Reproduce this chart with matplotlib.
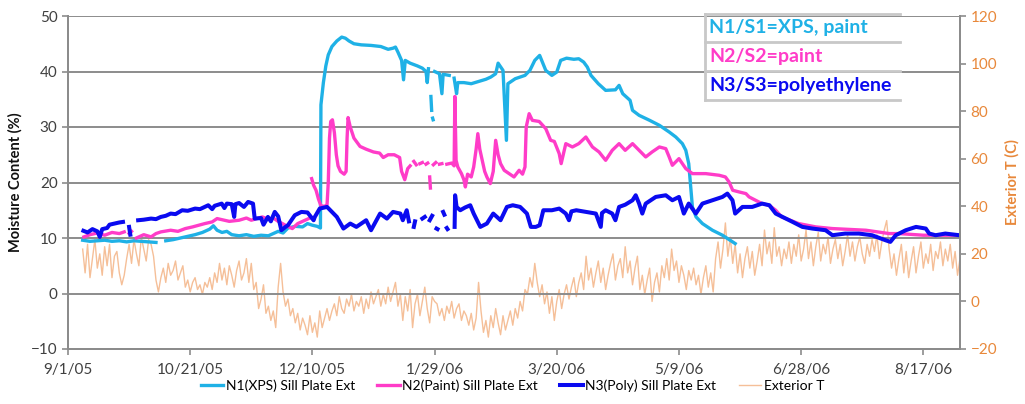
import numpy as np
import matplotlib
matplotlib.use("Agg")
import matplotlib.pyplot as plt
from matplotlib.lines import Line2D

nan = np.nan

# x is days after 9/1/05
tick_days = [0, 50, 100, 150, 200, 250, 300, 350]
tick_labels = ["9/1/05", "10/21/05", "12/10/05", "1/29/06", "3/20/06", "5/9/06", "6/28/06", "8/17/06"]

# N1 (XPS) sill plate ext, moisture content %
n1_days = [6, 9, 12, 15, 18, 21, 24, 27, 30, 33, 36, 37, 40, 43, 46, 49, 52, 55, 58, 59.5, 61, 63, 65, 67,
           70, 73, 76, 79, 82, 84, 86, 88, 90, 93, 96, 98, 100, 102, 103.3, 103.5, 104, 104.5, 105.5, 106.5,
           108, 110, 112, 113.5, 115, 117, 120, 124, 128, 131, 133, 134, 135, 136.5, 137.3, 138, 140, 143,
           145, 146.5, 147, 147.5, 148, 148.5, 148.8, 149, 149.2, 149.4, 149.6, 150, 152, 153, 153.5, 156,
           157, 158, 159, 159.5, 162, 165, 168, 171, 173, 175, 176, 178, 179.4, 180, 183, 187, 189, 191,
           193, 195.5, 198, 200, 201.6, 204, 207, 209, 211, 212.5, 214, 217, 220, 224, 225.5, 227, 230,
           231, 233.7, 238, 242, 246, 248.7, 251.4, 252.8, 254, 254.8, 255.5, 257, 259.6, 263.7, 267.8, 273]
n1_mc = [9.6, 9.4, 9.5, 9.6, 9.4, 9.5, 9.3, 9.5, 9.4, 9.3, 9.2, nan, 9.5, 9.7, 10.0, 10.3, 10.6, 11.0, 11.6,
         12.2, 11.4, 11.0, 11.2, 10.6, 10.4, 10.6, 10.3, 10.5, 10.4, 10.8, 11.2, 10.9, 11.8, 12.1, 12.0, 12.6,
         12.3, 12.1, 11.8, 34.0, 36.0, 38.0, 41.0, 43.0, 44.5, 45.5, 46.2, 46.0, 45.5, 45.0, 44.8, 44.7, 44.5,
         44.0, 44.2, 44.4, 43.5, 42.0, 38.5, 42.0, 41.5, 41.0, 40.6, 40.0, 38.0, 40.5, nan, 35.5, 33.0, nan,
         31.6, 31.3, nan, 40.0, 39.6, 36.0, 39.5, 39.3, nan, 38.8, 36.0, 38.0, 38.0, 37.8, 38.2, 38.6, 39.0,
         39.6, 41.5, 40.2, 27.6, 37.8, 38.7, 39.3, 40.2, 42.0, 42.9, 40.2, 39.3, 39.9, 42.0, 42.4, 42.2, 42.3,
         41.7, 40.8, 39.3, 37.8, 36.6, 36.7, 37.5, 36.0, 34.8, 33.0, 32.1, 31.2, 30.3, 29.1, 28.2, 27.0, 25.8,
         23.4, 19.2, 15.6, 13.8, 12.6, 11.4, 10.5, 9.0]

# N2 (Paint) sill plate ext
n2_days = [6.5, 9, 12, 15, 18, 21, 23, 23.5, 25, 26, 26.5, 28, 31, 34, 36, 38, 42, 45, 48, 51, 53.5, 56, 59,
           61, 63, 66, 70, 73, 75, 79.5, 82, 84, 86, 89, 91.8, 94, 97, 99, 99.4, 99.7, 100.5, 101.5, 102.5,
           103.5, 105, 106, 106.5, 107, 107.5, 108.2, 109, 109.8, 110.5, 111.5, 113, 113.8, 114.2, 114.6,
           115.5, 117, 119.5, 122, 125, 127.5, 129, 131, 133.5, 135.7, 136.5, 137.8, 139, 140, 140.5, 141.5,
           142.5, 143, 144, 145, 145.5, 146.5, 147.2, 147.5, 148, 148.3, 148.5, 149.5, 150.5, 151, 152, 153,
           154, 155, 157, 158, 158.3, 158.8, 159.5, 161, 162, 162.6, 163.5, 165, 166, 167, 167.7, 168.5,
           169.5, 170.5, 171.4, 172.8, 174, 175, 176, 177, 178.5, 180.5, 182.5, 184.6, 186, 187, 187.5, 188.7,
           190, 192.8, 195.5, 197.5, 199, 201, 201.8, 203.7, 206.4, 209, 211.9, 214.6, 217.3, 220, 222.7,
           225.5, 228, 231, 233.7, 236.4, 239, 242, 244.6, 246, 247.3, 250, 252.8, 255.5, 261, 266.5, 269,
           270.5, 272, 274.6, 277.4, 278.7, 281.4, 284, 286.9, 289.6, 292, 299, 306, 312.8, 326.5, 336, 340,
           350, 356.5, 364.7]
n2_mc = [10.2, 10.6, 10.9, 10.5, 11.0, 10.8, 11.1, nan, 10.8, 11.2, nan, 10.0, 10.6, 10.2, 10.8, 11.1, 11.4,
         11.2, 11.7, 12.0, 12.3, 12.6, 12.9, 13.5, 13.3, 13.0, 13.2, 13.6, 13.2, 13.8, 13.4, 13.6, 13.0, 12.3,
         11.7, 12.6, 13.2, 13.6, nan, 20.7, 19.5, 18.6, 17.0, 15.8, 15.7, 16.0, 20.0, 28.0, 31.0, 31.3, 29.0,
         25.0, 23.0, 22.0, 21.5, 22.0, 28.0, 31.7, 30.0, 28.0, 26.5, 26.0, 25.5, 25.3, 24.5, 25.0, 25.0, 24.5,
         22.0, 20.5, 22.5, 23.0, nan, 23.8, 23.2, nan, 23.4, 23.6, nan, 23.3, 23.5, nan, 21.0, 19.0, nan,
         23.2, 23.6, nan, 23.3, 23.4, nan, 23.3, 23.5, 23.0, 35.5, 24.0, 22.8, 21.6, 20.5, 19.2, 21.5, 21.0,
         22.8, 26.0, 28.8, 26.0, 24.0, 22.0, 21.0, 19.8, 22.0, 27.6, 25.0, 23.4, 22.2, 21.6, 21.0, 22.2, 21.5,
         22.8, 30.0, 32.4, 31.2, 31.0, 29.7, 27.6, 27.4, 25.2, 23.4, 27.0, 26.4, 27.0, 28.2, 26.4, 25.5, 24.0,
         25.8, 27.0, 25.8, 27.0, 25.8, 24.6, 25.5, 26.4, 26.1, 24.6, 23.1, 24.3, 22.5, 21.6, 21.6, 21.3, 21.0,
         20.1, 18.6, 18.3, 18.0, 17.4, 16.8, 16.2, 15.9, 15.0, 13.8, 12.6, 12.0, 11.7, 11.4, 10.8, 10.8, 10.5,
         10.5, 10.5]

# N3 (Poly) sill plate ext
n3_days = [6.3, 8, 10, 12, 13, 14, 16, 17, 19, 21, 22.5, 23, 25, 25.5, 26, 28.7, 31, 34, 36, 38, 40, 42, 44,
           46.7, 49, 52, 54, 57.4, 59, 60, 62.9, 64, 65, 67, 68, 68.5, 70, 72, 73.7, 75.7, 76.4, 79, 80, 81.8,
           83, 84.6, 86, 87.3, 89, 90, 92.8, 95.5, 98, 100.5, 101, 103, 106, 108, 110, 112.7, 115.5, 118, 122,
           124, 127.7, 130.5, 133, 136, 137, 138.6, 139.5, 140, 141.5, 142, 142.5, 145, 146, 146.5, 148, 149,
           149.5, 150.8, 151.2, 151.5, 153.5, 154, 154.5, 155, 155.3, 155.6, 158.2, 158.4, 159, 160.5, 162.5,
           164.6, 166, 168.7, 171.4, 174, 177, 179.6, 182, 185, 187.8, 189.4, 191.4, 193, 194.5, 198, 201,
           203.7, 205, 206, 208, 212, 216, 218, 218.5, 220, 222.7, 224, 225.5, 228, 231, 232.3, 233.7, 235,
           236.4, 240.5, 244.6, 247.3, 250, 252, 254, 256.9, 259.6, 263.7, 267.8, 269.8, 271.9, 273, 276, 280,
           284, 287, 289.6, 292.4, 296.5, 300.5, 304.6, 310, 312.8, 318, 323.6, 329, 334.5, 336.5, 338.7,
           342.8, 347, 351, 352.4, 355, 359, 364.7]
n3_mc = [11.3, 11.0, 11.6, 11.2, 10.2, 11.6, 11.8, 12.4, 12.6, 12.8, 12.9, nan, 12.0, 10.6, nan, 13.2, 13.3,
         13.5, 13.4, 13.8, 14.0, 14.4, 14.3, 15.0, 14.9, 15.3, 15.2, 15.9, 15.2, 15.8, 16.2, 15.4, 16.2, 16.1,
         13.8, 16.1, 16.3, 15.6, 16.5, 16.2, 13.5, 13.6, 12.4, 13.8, 13.0, 14.7, 13.9, 11.4, 12.0, 12.3, 14.1,
         14.7, 14.6, 13.2, 13.8, 15.3, 15.6, 14.7, 13.8, 11.7, 12.6, 12.0, 13.2, 11.4, 14.4, 13.5, 14.7, 14.4,
         13.2, 15.0, 13.0, nan, 12.0, 13.0, nan, 13.5, 13.8, nan, 13.2, 14.0, nan, 11.7, 11.6, nan, 14.7, 14.2,
         nan, 11.8, 11.6, nan, 12.0, 17.7, 15.6, 15.0, 15.5, 15.9, 14.4, 12.0, 12.6, 14.4, 13.2, 15.6, 15.9,
         15.6, 14.4, 12.0, 12.0, 12.3, 15.0, 15.0, 15.3, 14.4, 13.2, 14.8, 15.0, 14.7, 14.4, 12.0, 14.5, 15.0,
         14.4, 13.2, 15.6, 16.0, 16.8, 17.7, 16.2, 14.4, 16.2, 17.4, 17.7, 16.8, 17.4, 14.4, 16.2, 14.4, 16.2,
         16.8, 17.4, 18.0, 16.8, 14.4, 15.6, 15.6, 16.2, 15.9, 14.4, 13.8, 12.9, 12.0, 11.7, 11.4, 10.5, 10.8,
         10.8, 10.5, 9.6, 9.3, 10.5, 11.4, 12.0, 11.7, 10.8, 10.5, 10.8, 10.5]

# exterior temperature (C), one reading per day from day 6
ext_t = [22, 12, 24, 10, 18, 26, 14, 20, 11, 23,
         15, 24, 10, 19, 21, 12, 7, 11, 18, 24,
         16, 26, 20, 15, 27, 22, 17, 26, 24, 19,
         9, 4, 10, 14, 8, 16, 11, 13, 17, 9,
         12, 15, 6, 9, 4, 8, 10, 5, 7, 3,
         8, 6, 10, 5, 12, 8, 16, 9, 14, 7,
         15, 11, 6, 13, 17, 9, 12, 18, 8, 16,
         5, 8, -3, 1, 7, -5, -2, -8, -4, -11,
         6, 16, 4, -2, 1, -6, -3, -9, -5, -12,
         -7, -10, -14, -6, -13, -9, -15, -4, -11, -7,
         -3, -8, -4, -1, -6, 2, -3, -5, 1, -2,
         3, -4, 0, -2, 2, -5, 1, -3, 4, -1,
         2, 5, -2, 3, -1, 6, 0, 4, 8, -2,
         3, -8, 2, -4, 5, -11, -1, 3, -6, 0,
         6, -3, -9, 2, 0, -1, -6, -3, -8, -2,
         -5, 0, -7, -3, -1, -8, -4, -6, -10, -5,
         -12, -7, 8, -4, -13, -8, -15, -6, -11, -3,
         -9, -14, -6, -12, -8, -4, -10, -3, -7, 0,
         -4, 5, 3, 10, 6, 16, 8, 2, 7, -1,
         4, -5, 2, -8, 0, 5, -3, 3, 7, 1,
         6, 10, 2, 8, 12, 5, 19, 9, 14, 6,
         12, 17, 8, 14, 5, 11, 16, 20, 9, 15,
         18, 10, 23, 12, 17, 7, 14, 19, 5, 11,
         3, 9, 14, 0, 8, 12, 4, 15, 10, 18,
         9, 22, 13, 17, 8, 15, 11, 5, 13, 9,
         14, 7, 11, 3, 10, 15, 6, 12, 4, 18,
         25, 14, 22, 33, 19, 27, 16, 24, 12, 20,
         10, 18, 23, 14, 21, 11, 17, 24, 15, 30,
         20, 25, 16, 31, 19, 23, 15, 22, 18, 25,
         16, 24, 19, 28, 17, 22, 30, 18, 25, 15,
         23, 29, 17, 24, 20, 27, 16, 22, 26, 18,
         24, 15, 21, 28, 19, 25, 17, 23, 27, 20,
         16, 24, 19, 26, 21, 28, 18, 25, 30, 34,
         22, 14, 20, 11, 18, 24, 12, 21, 10, 17,
         23, 12, 19, 25, 14, 20, 16, 24, 13, 21,
         18, 25, 15, 22, 17, 24, 14, 21, 11, 18]
t_days = np.arange(6, 6 + len(ext_t))

box_labels = ["N1/S1=XPS, paint", "N2/S2=paint", "N3/S3=polyethylene"]

c_n1 = "#1FB1E6"
c_n2 = "#FF3CC8"
c_n3 = "#0A0AF0"
c_t = "#F5BF98"
c_orange = "#E8883A"
grid_c = "#8C8C8C"

plt.rcParams["font.family"] = ["Lato", "DejaVu Sans"]

fig = plt.figure(figsize=(10.25, 4.04), dpi=100)
W, H = 1025, 404
ax = fig.add_axes([68 / W, 1 - 349 / H, (960 - 68) / W, (349 - 16) / H])
ax2 = ax.twinx()

ax2.plot(t_days, ext_t, color=c_t, lw=1.0, label="Exterior T")
ax.plot(n1_days, n1_mc, color=c_n1, lw=2.4, label="N1(XPS) Sill Plate Ext")
ax.plot(n2_days, n2_mc, color=c_n2, lw=2.4, label="N2(Paint) Sill Plate Ext")
ax.plot(n3_days, n3_mc, color=c_n3, lw=2.9, label="N3(Poly) Sill Plate Ext")

ax.set_zorder(ax2.get_zorder() + 1)
ax.patch.set_visible(False)

ax.set_xlim(0, 365)
ax.set_ylim(-10, 50)
ax2.set_ylim(-20, 120)
ax.set_yticks(range(-10, 51, 10))
ax2.set_yticks(range(-20, 121, 20))
ax.set_xticks(tick_days)
ax.set_xticklabels(tick_labels)

ax.yaxis.grid(True, color=grid_c, lw=1.4)
ax.set_axisbelow(True)
for a in (ax, ax2):
    a.spines["top"].set_visible(False)
    for s in ("left", "right", "bottom"):
        a.spines[s].set_color(grid_c)
        a.spines[s].set_linewidth(1.4)

ax.tick_params(axis="both", colors=grid_c, labelcolor="#404040", labelsize=11, direction="out", length=4, width=1.2)
ax.tick_params(axis="x", pad=6)
ax2.tick_params(axis="y", colors=grid_c, labelcolor=c_orange, labelsize=11, direction="out", length=4, width=1.2)

ax.set_ylabel("Moisture Content (%)", fontsize=10.5, fontweight="bold", color="#111111", labelpad=6)
ax2.set_ylabel("Exterior T (C)", fontsize=10.5, fontweight="bold", color=c_orange, labelpad=6)

# label box in the upper right
bx0, bx1 = 705 / W, 900 / W
rows_y = [14, 42, 71, 100]
for py in rows_y:
    fig.add_artist(Line2D([bx0, bx1], [1 - py / H] * 2, color="#C8C8C8", lw=2, transform=fig.transFigure))
fig.add_artist(Line2D([bx0, bx0], [1 - 14 / H, 1 - 100 / H], color="#C8C8C8", lw=2, transform=fig.transFigure))
for i, (txt, col) in enumerate(zip(box_labels, [c_n1, c_n2, c_n3])):
    yc = (rows_y[i] + rows_y[i + 1]) / 2
    fig.text(709 / W, 1 - yc / H, txt, color=col, fontsize=14, fontweight="bold", va="center", ha="left")

h1, l1 = ax.get_legend_handles_labels()
h2, l2 = ax2.get_legend_handles_labels()
fig.legend(h1 + h2, l1 + l2, loc="center", bbox_to_anchor=(0.5, 1 - 386 / H), ncol=4, frameon=False,
           fontsize=10, handlelength=1.6, handletextpad=0.2, columnspacing=1.6)

fig.savefig("out.png", dpi=100)
